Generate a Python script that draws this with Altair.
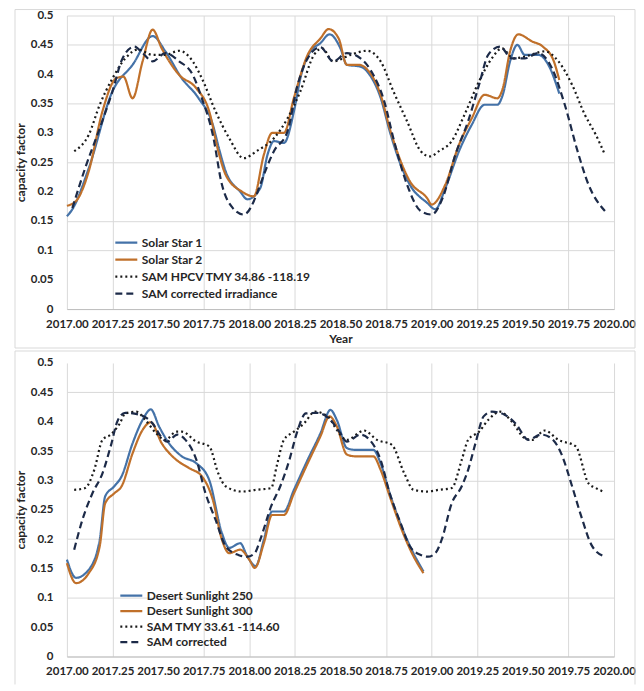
import altair as alt
import pandas as pd

# ---------------- data ----------------
X_TICKS = [2017.00, 2017.25, 2017.50, 2017.75, 2018.00, 2018.25, 2018.50, 2018.75,
           2019.00, 2019.25, 2019.50, 2019.75, 2020.00]
Y_TICKS = [0, 0.05, 0.1, 0.15, 0.2, 0.25, 0.3, 0.35, 0.4, 0.45, 0.5]

# Top panel
SS1_X = [2017.00, 2017.03, 2017.12, 2017.25, 2017.36, 2017.47, 2017.54, 2017.63, 2017.72, 2017.80,
         2017.835, 2017.87, 2017.95, 2017.99, 2018.06, 2018.10, 2018.135, 2018.19, 2018.245, 2018.28,
         2018.335, 2018.39, 2018.44, 2018.50, 2018.535, 2018.61, 2018.66, 2018.72, 2018.77, 2018.83,
         2018.88, 2018.975, 2019.02, 2019.075, 2019.15, 2019.22, 2019.29, 2019.36, 2019.39, 2019.43,
         2019.47, 2019.51, 2019.585, 2019.64, 2019.70]
SS1_Y = [0.158, 0.170, 0.240, 0.371, 0.416, 0.465, 0.439, 0.393, 0.360, 0.314,
         0.272, 0.235, 0.200, 0.187, 0.206, 0.263, 0.286, 0.283, 0.337, 0.393,
         0.439, 0.453, 0.468, 0.444, 0.416, 0.413, 0.399, 0.360, 0.303, 0.246,
         0.212, 0.181, 0.170, 0.206, 0.269, 0.314, 0.348, 0.348, 0.365, 0.422,
         0.450, 0.433, 0.433, 0.416, 0.367]

SS2_X = [2017.00, 2017.05, 2017.12, 2017.195, 2017.27, 2017.31, 2017.36, 2017.415, 2017.47, 2017.52,
         2017.615, 2017.71, 2017.78, 2017.83, 2017.87, 2017.96, 2018.025, 2018.08, 2018.125, 2018.19,
         2018.245, 2018.32, 2018.39, 2018.435, 2018.49, 2018.535, 2018.60, 2018.655, 2018.72, 2018.77,
         2018.83, 2018.88, 2018.975, 2019.00, 2019.075, 2019.15, 2019.22, 2019.29, 2019.36, 2019.39,
         2019.43, 2019.475, 2019.55, 2019.61, 2019.67, 2019.70]
SS2_Y = [0.176, 0.184, 0.235, 0.337, 0.393, 0.396, 0.359, 0.422, 0.476, 0.444,
         0.399, 0.376, 0.337, 0.269, 0.229, 0.200, 0.192, 0.263, 0.300, 0.300,
         0.360, 0.433, 0.461, 0.477, 0.461, 0.416, 0.416, 0.405, 0.365, 0.308,
         0.252, 0.218, 0.189, 0.178, 0.212, 0.280, 0.325, 0.365, 0.359, 0.376,
         0.439, 0.468, 0.456, 0.447, 0.422, 0.390]

HPCV_X = [2017.04, 2017.12, 2017.18, 2017.25, 2017.32, 2017.39, 2017.47, 2017.54, 2017.615, 2017.69,
          2017.74, 2017.815, 2017.89, 2017.97, 2018.04, 2018.135, 2018.21, 2018.28, 2018.355, 2018.40,
          2018.46, 2018.555, 2018.645, 2018.72, 2018.79, 2018.865, 2018.94, 2018.99, 2019.04, 2019.11,
          2019.18, 2019.26, 2019.33, 2019.385, 2019.45, 2019.51, 2019.62, 2019.695, 2019.77, 2019.84,
          2019.90, 2019.95]
HPCV_Y = [0.269, 0.297, 0.348, 0.393, 0.427, 0.442, 0.433, 0.433, 0.440, 0.422,
          0.393, 0.337, 0.291, 0.257, 0.269, 0.291, 0.325, 0.371, 0.433, 0.444,
          0.422, 0.433, 0.440, 0.422, 0.371, 0.320, 0.269, 0.260, 0.269, 0.286,
          0.331, 0.388, 0.427, 0.444, 0.427, 0.430, 0.439, 0.422, 0.382, 0.331,
          0.297, 0.263]

CORR1_X = [2017.03, 2017.10, 2017.18, 2017.25, 2017.305, 2017.37, 2017.415, 2017.47, 2017.54, 2017.615,
           2017.69, 2017.74, 2017.80, 2017.85, 2017.91, 2017.97, 2018.04, 2018.06, 2018.135, 2018.21,
           2018.26, 2018.32, 2018.39, 2018.46, 2018.535, 2018.61, 2018.68, 2018.74, 2018.79, 2018.865,
           2018.94, 2019.00, 2019.06, 2019.13, 2019.20, 2019.26, 2019.31, 2019.375, 2019.44, 2019.51,
           2019.585, 2019.66, 2019.73, 2019.80, 2019.86, 2019.95]
CORR1_Y = [0.172, 0.240, 0.308, 0.371, 0.427, 0.447, 0.436, 0.422, 0.436, 0.422,
           0.399, 0.359, 0.297, 0.212, 0.172, 0.161, 0.195, 0.212, 0.269, 0.303,
           0.376, 0.427, 0.446, 0.422, 0.436, 0.427, 0.399, 0.354, 0.291, 0.212,
           0.167, 0.161, 0.189, 0.263, 0.320, 0.382, 0.433, 0.447, 0.427, 0.427,
           0.436, 0.410, 0.348, 0.269, 0.212, 0.167]

# Bottom panel
DS250_X = [2017.00, 2017.05, 2017.12, 2017.18, 2017.21, 2017.26, 2017.30, 2017.36, 2017.415, 2017.46,
           2017.505, 2017.56, 2017.63, 2017.71, 2017.78, 2017.85, 2017.89, 2017.95, 2017.99, 2018.035,
           2018.08, 2018.125, 2018.19, 2018.245, 2018.32, 2018.39, 2018.445, 2018.48, 2018.535, 2018.58,
           2018.68, 2018.72, 2018.77, 2018.85, 2018.90, 2018.955]
DS250_Y = [0.165, 0.134, 0.148, 0.199, 0.273, 0.290, 0.307, 0.363, 0.403, 0.421,
           0.392, 0.363, 0.341, 0.329, 0.301, 0.210, 0.185, 0.193, 0.170, 0.154,
           0.199, 0.247, 0.247, 0.284, 0.335, 0.380, 0.420, 0.403, 0.355, 0.352,
           0.352, 0.329, 0.278, 0.210, 0.176, 0.145]

DS300_X = [2017.00, 2017.05, 2017.12, 2017.18, 2017.21, 2017.26, 2017.30, 2017.36, 2017.415, 2017.46,
           2017.52, 2017.60, 2017.67, 2017.74, 2017.80, 2017.85, 2017.89, 2017.95, 2018.00, 2018.03,
           2018.08, 2018.125, 2018.19, 2018.245, 2018.32, 2018.39, 2018.44, 2018.48, 2018.535, 2018.58,
           2018.68, 2018.72, 2018.77, 2018.85, 2018.90, 2018.955]
DS300_Y = [0.159, 0.125, 0.142, 0.188, 0.261, 0.278, 0.290, 0.346, 0.386, 0.399,
           0.363, 0.335, 0.321, 0.307, 0.267, 0.199, 0.176, 0.182, 0.165, 0.151,
           0.193, 0.241, 0.241, 0.278, 0.329, 0.375, 0.409, 0.392, 0.344, 0.341,
           0.341, 0.318, 0.273, 0.205, 0.171, 0.142]

TMY_X = [2017.04, 2017.10, 2017.15, 2017.195, 2017.24, 2017.29, 2017.32, 2017.38, 2017.43, 2017.49,
         2017.54, 2017.60, 2017.63, 2017.71, 2017.78, 2017.83, 2017.87, 2017.96, 2018.04, 2018.12,
         2018.15, 2018.19, 2018.245, 2018.30, 2018.36, 2018.43, 2018.48, 2018.535, 2018.63, 2018.70,
         2018.78, 2018.85, 2018.90, 2018.975, 2019.04, 2019.11, 2019.165, 2019.20, 2019.26, 2019.31,
         2019.375, 2019.44, 2019.51, 2019.55, 2019.62, 2019.695, 2019.79, 2019.86, 2019.90, 2019.94]
TMY_Y = [0.284, 0.287, 0.318, 0.369, 0.378, 0.397, 0.414, 0.417, 0.403, 0.380,
         0.369, 0.383, 0.383, 0.366, 0.358, 0.312, 0.290, 0.281, 0.284, 0.287,
         0.324, 0.369, 0.383, 0.397, 0.417, 0.409, 0.386, 0.369, 0.385, 0.369,
         0.361, 0.312, 0.284, 0.281, 0.284, 0.287, 0.335, 0.369, 0.383, 0.403,
         0.417, 0.400, 0.372, 0.369, 0.385, 0.369, 0.358, 0.295, 0.287, 0.281]

CORR2_X = [2017.04, 2017.085, 2017.14, 2017.195, 2017.24, 2017.28, 2017.32, 2017.395, 2017.47, 2017.515,
           2017.55, 2017.605, 2017.65, 2017.71, 2017.76, 2017.815, 2017.87, 2017.94, 2017.99, 2018.03,
           2018.06, 2018.12, 2018.17, 2018.22, 2018.26, 2018.31, 2018.37, 2018.445, 2018.50, 2018.535,
           2018.61, 2018.66, 2018.72, 2018.77, 2018.83, 2018.88, 2018.94, 2018.98, 2019.02, 2019.055,
           2019.11, 2019.165, 2019.20, 2019.24, 2019.285, 2019.33, 2019.40, 2019.465, 2019.53, 2019.60,
           2019.655, 2019.71, 2019.77, 2019.82, 2019.88, 2019.95]
CORR2_Y = [0.182, 0.233, 0.278, 0.312, 0.358, 0.403, 0.415, 0.412, 0.397, 0.375,
           0.366, 0.378, 0.369, 0.335, 0.278, 0.233, 0.188, 0.173, 0.170, 0.176,
           0.199, 0.256, 0.290, 0.335, 0.380, 0.414, 0.415, 0.403, 0.380, 0.366,
           0.378, 0.369, 0.335, 0.278, 0.227, 0.188, 0.173, 0.170, 0.176, 0.199,
           0.261, 0.290, 0.318, 0.363, 0.409, 0.417, 0.412, 0.395, 0.369, 0.378,
           0.372, 0.346, 0.290, 0.239, 0.188, 0.170]

TOP_NAMES = ["Solar Star 1", "Solar Star 2", "SAM  HPCV TMY 34.86 -118.19", "SAM corrected irradiance"]
BOT_NAMES = ["Desert Sunlight 250", "Desert Sunlight 300", "SAM TMY 33.61 -114.60", "SAM corrected"]

# ---------------- styling ----------------
COLORS = ["#4472a8", "#c0702a", "#1a1a1a", "#1c2a48"]
DASHES = [[1, 0], [1, 0], [2, 3], [7, 4]]
WIDTHS = [2.2, 2.2, 2.2, 2.4]
FONT = "Lato"
TXT = "#262626"
GRID = "#d9d9d9"
W, H = 548, 294
FS = 11.5


def make_df(names, xs_list, ys_list):
    rows = []
    for name, xs, ys in zip(names, xs_list, ys_list):
        assert len(xs) == len(ys), name
        for x, y in zip(xs, ys):
            rows.append({"series": name, "year": x, "cf": y})
    return pd.DataFrame(rows)


def hide_test(vals):
    return " || ".join(f"abs(datum.value-{v})<1e-6" for v in vals)


def panel(names, xs_list, ys_list, y_hidden, legend_x, legend_y, x_title, clip_h, row_pad):
    df = make_df(names, xs_list, ys_list)
    leg = alt.Legend(orient="none", legendX=legend_x, legendY=legend_y, title=None,
                     symbolType="stroke", symbolSize=484, symbolStrokeWidth=2.2,
                     labelFont=FONT, labelFontWeight="bold", labelFontSize=12,
                     labelColor=TXT, clipHeight=clip_h, rowPadding=row_pad,
                     labelOffset=3, padding=0, labelLimit=300)
    xaxis = alt.Axis(values=X_TICKS, format=".2f", labelFlush=False, labelOverlap=False,
                     labelPadding=9, titlePadding=4,
                     gridOpacity={"condition": {"test": "abs(datum.value % 1 - 0.5) < 1e-6",
                                                "value": 0}, "value": 1})
    xaxis.title = x_title if x_title else None
    lines = alt.Chart(df).mark_line(interpolate="monotone").encode(
        x=alt.X("year:Q", scale=alt.Scale(domain=[2017, 2020], nice=False, zero=False),
                axis=xaxis),
        y=alt.Y("cf:Q", scale=alt.Scale(domain=[0, 0.5], nice=False),
                axis=alt.Axis(values=Y_TICKS, format=".2~f", title="capacity factor",
                              labelPadding=14, titlePadding=3, domain=False,
                              gridOpacity={"condition": {"test": hide_test(y_hidden), "value": 0},
                                           "value": 1})),
        color=alt.Color("series:N", scale=alt.Scale(domain=names, range=COLORS), legend=leg),
        strokeDash=alt.StrokeDash("series:N", scale=alt.Scale(domain=names, range=DASHES), legend=leg),
        strokeWidth=alt.StrokeWidth("series:N", scale=alt.Scale(domain=names, range=WIDTHS), legend=None),
    )
    return lines


top_lines = panel(TOP_NAMES, [SS1_X, SS2_X, HPCV_X, CORR1_X], [SS1_Y, SS2_Y, HPCV_Y, CORR1_Y],
                  [0.4, 0.3, 0.2, 0.05], 47, 220, "Year", 15, 2)
bot_lines = panel(BOT_NAMES, [DS250_X, DS300_X, TMY_X, CORR2_X], [DS250_Y, DS300_Y, TMY_Y, CORR2_Y],
                  [0.5, 0.4, 0.25, 0.15, 0.05], 52, 226, None, 14, 1.5)

one = alt.Data(values=[{"k": 0}])
top_frame = alt.Chart(one).mark_rect(filled=False, stroke=GRID, strokeWidth=1).encode(
    x=alt.value(-52), x2=alt.value(569), y=alt.value(-6), y2=alt.value(333))
bot_frame_top = alt.Chart(one).mark_rule(color=GRID, strokeWidth=1).encode(
    x=alt.value(-52), x2=alt.value(569), y=alt.value(-12))
bot_frame_left = alt.Chart(one).mark_rule(color=GRID, strokeWidth=1).encode(
    x=alt.value(-52), y=alt.value(-12), y2=alt.value(322))
bot_frame_right = alt.Chart(one).mark_rule(color=GRID, strokeWidth=1).encode(
    x=alt.value(569), y=alt.value(-12), y2=alt.value(322))

top = alt.layer(top_frame, top_lines).properties(width=W, height=H)
bottom = alt.layer(bot_frame_top, bot_frame_left, bot_frame_right, bot_lines).properties(width=W, height=H)

chart = alt.vconcat(top, bottom, spacing=1).resolve_scale(
    color="independent", strokeDash="independent", strokeWidth="independent"
).resolve_legend(color="independent", strokeDash="independent").properties(
    padding={"left": 6, "top": 0, "right": 0, "bottom": 0},
    background="white",
).configure_view(stroke=None).configure_axis(
    labelFont=FONT, labelFontWeight="bold", labelFontSize=FS, labelColor=TXT,
    titleFont=FONT, titleFontWeight="bold", titleFontSize=12, titleColor=TXT,
    gridColor=GRID, gridWidth=1, ticks=False, domainColor="#bfbfbf",
)

chart.save("out.html", embed_options={"renderer": "svg", "actions": False})
